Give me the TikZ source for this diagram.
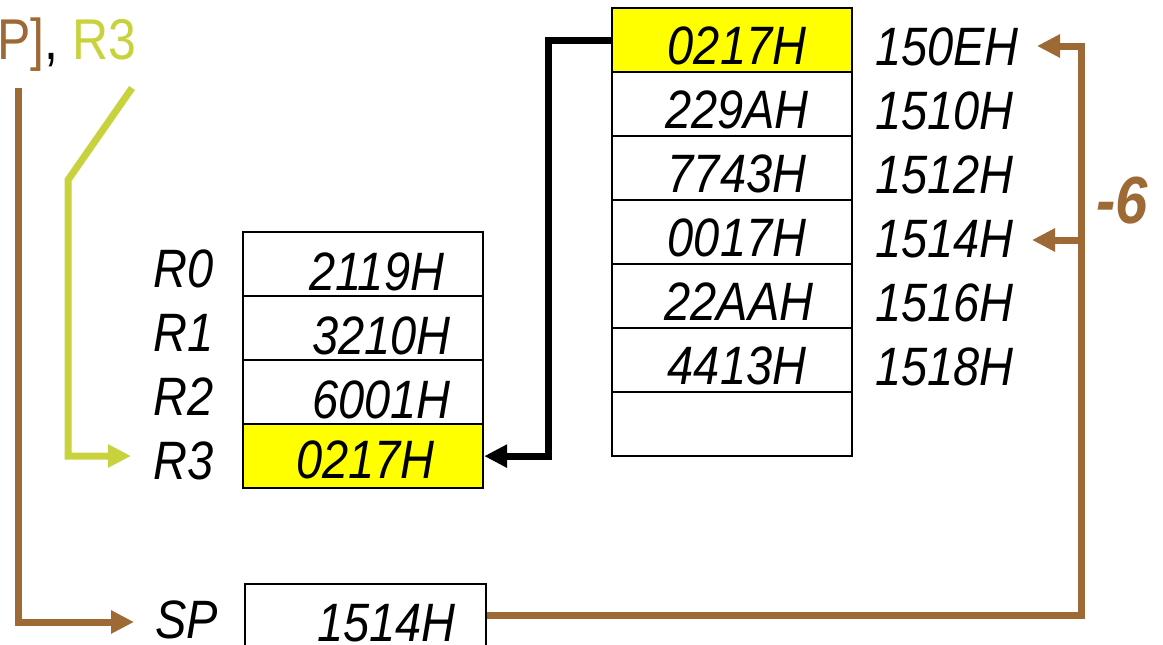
\documentclass[tikz,border=0pt]{standalone}
\usepackage{fontspec}
\usepackage{graphicx}
\setmainfont{Liberation Sans}
\usetikzlibrary{arrows.meta}
\definecolor{brn}{RGB}{157,105,52}
\definecolor{ygr}{RGB}{200,210,60}
\definecolor{yel}{RGB}{255,255,0}
\newcommand\vst[1]{\scalebox{1}[1.15]{#1}}
\tikzset{
  cell/.style={draw=black, line width=1.6pt, minimum width=240pt, minimum height=64pt, inner sep=0pt, anchor=north west},
  hcell/.style={cell, fill=yel, line width=2.2pt},
  txt/.style={inner sep=0pt, anchor=base west, font=\fontsize{47}{50}\selectfont\itshape},
  ctxt/.style={txt, anchor=base},
  tip/.style={-{Triangle[length=23pt,width=22pt]}},
  blk/.style={line width=7pt, black, tip},
  bline/.style={line width=7pt, brn},
  yline/.style={line width=7pt, ygr},
}
\begin{document}
\begin{tikzpicture}[x=1pt,y=-1pt]
\clip (0,0) rectangle (1163,645);
\fill[white] (0,0) rectangle (1163,645);
% top text
\node[inner sep=0pt, anchor=base west, font=\fontsize{50}{52}\selectfont] (top) at (-3,59)
  {\vst{\textcolor{brn}{P]}\textcolor{black}{,} \textcolor{ygr}{R3}}};
% registers
\node[cell] (r0) at (242,231) {};
\node[cell] (r1) at (242,295) {};
\node[cell] (r2) at (242,359) {};
\node[hcell] (r3) at (242,423) {};
\node[txt] (lr0) at (153,287) {\vst{R0}};
\node[txt] (lr1) at (153,351) {\vst{R1}};
\node[txt] (lr2) at (153,415) {\vst{R2}};
\node[txt] (lr3) at (153,479) {\vst{R3}};
\node[txt] (vr0) at (309,290) {\vst{2119H}};
\node[txt] (vr1) at (312,354) {\vst{3210H}};
\node[txt] (vr2) at (312,418) {\vst{6001H}};
\node[txt] (vr3) at (296,478) {\vst{0217H}};
% memory
\node[hcell] (m0) at (611,7) {};
\node[cell] (m1) at (611,71) {};
\node[cell] (m2) at (611,135) {};
\node[cell] (m3) at (611,199) {};
\node[cell] (m4) at (611,263) {};
\node[cell] (m5) at (611,327) {};
\node[cell] (m6) at (611,391) {};
\node[ctxt] (v0) at (737,64) {\vst{0217H}};
\node[ctxt] (v1) at (737,128) {\vst{229AH}};
\node[ctxt] (v2) at (737,192) {\vst{7743H}};
\node[ctxt] (v3) at (737,256) {\vst{0017H}};
\node[ctxt] (v4) at (739,320) {\vst{22AAH}};
\node[ctxt] (v5) at (737,384) {\vst{4413H}};
\node[txt] (a0) at (875,65) {\vst{150EH}};
\node[txt] (a1) at (875,129) {\vst{1510H}};
\node[txt] (a2) at (875,193) {\vst{1512H}};
\node[txt] (a3) at (875,257) {\vst{1514H}};
\node[txt] (a4) at (875,321) {\vst{1516H}};
\node[txt] (a5) at (875,385) {\vst{1518H}};
% SP
\node[cell, minimum width=241pt] (sp) at (244,583) {};
\node[txt] (lsp) at (155,638) {\vst{SP}};
\node[txt] (vsp) at (317,641) {\vst{1514H}};
% -6
\node[inner sep=0pt, anchor=base west, font=\fontsize{58}{60}\selectfont\bfseries\itshape, text=brn] (six) at (1096,223) {\vst{-6}};
% connectors
\coordinate (bk) at (548,0);
\draw[blk] (m0.west) -- (m0.west -| bk) |- (r3.east);
\coordinate (ys) at (132,88);
\coordinate (yk) at (68,180);
\coordinate (yt) at (131,456);
\draw[yline, tip] (ys) -- (yk) |- (yt);
\coordinate (bs) at (18,88);
\coordinate (bt) at (134,622);
\draw[bline, tip] (bs) |- (bt);
\coordinate (bx) at (1081,240);
\coordinate (t1) at (1032,240);
\coordinate (t0) at (1037,46);
\draw[bline, tip] (sp.east) -| (bx) -- (t1);
\draw[bline, tip] (bx) |- (t0);
\end{tikzpicture}
\end{document}
